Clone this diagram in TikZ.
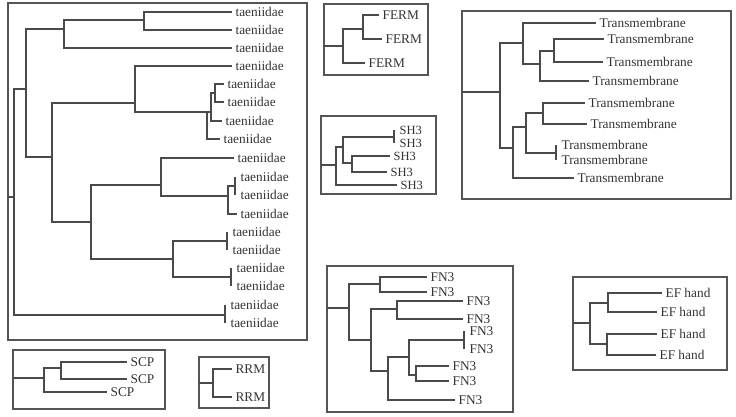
\documentclass[tikz,border=0pt]{standalone}
\usepackage{fontspec}
\setmainfont{Liberation Serif}
\definecolor{brc}{HTML}{4A4A4A}
\definecolor{boxc}{HTML}{555555}
\definecolor{txc}{HTML}{333333}
\tikzset{
  br/.style={draw=brc, line width=0.9pt},
  panel/.style={draw=boxc, line width=1.1pt},
  lab/.style={anchor=west, inner xsep=2.5pt, inner ysep=0pt, text=txc, font=\fontsize{10}{12}\selectfont},
  barlab/.style={lab, inner xsep=4pt},
  smalllab/.style={font=\fontsize{9.4}{11}\selectfont},
}
\begin{document}
\begin{tikzpicture}[x=0.75pt, y=-0.75pt]
\useasboundingbox (0,0) rectangle (736,417);

% ---------------- panels ----------------
\draw[panel] (8,3) rectangle (307,340);
\draw[panel] (324,4) rectangle (428,75);
\draw[panel] (321,116) rectangle (436,194);
\draw[panel] (462,11) rectangle (731,199);
\draw[panel] (327,266) rectangle (513,412);
\draw[panel] (573,277) rectangle (727,370);
\draw[panel] (13,350) rectangle (165,409);
\draw[panel] (199,357) rectangle (269,408);

% ---------------- taeniidae tree ----------------
\coordinate (bs) at (8,197);
\coordinate (r0) at (14,197);
\coordinate (n1) at (26,89);
\coordinate (n2) at (64,29);
\coordinate (n3) at (144,20);
\coordinate (n4) at (52,157);
\coordinate (n5) at (135,103);
\coordinate (n6) at (207,112);
\coordinate (n7) at (211,112);
\coordinate (n7b) at (215,93);
\coordinate (n8) at (91,222);
\coordinate (n9) at (161,185);
\coordinate (n10) at (228,196);
\coordinate (b1) at (235,186);
\coordinate (n11) at (173,259);
\coordinate (b2) at (227,241);
\coordinate (b3) at (231,277);
\coordinate (b4) at (225,315);

\node[lab] (t1) at (232,12) {taeniidae};
\node[lab] (t2) at (232,30) {taeniidae};
\node[lab] (t3) at (232,48) {taeniidae};
\node[lab] (t4) at (232,66) {taeniidae};
\node[lab] (t5) at (224,84) {taeniidae};
\node[lab] (t6) at (224,102) {taeniidae};
\node[lab] (t7) at (222,121) {taeniidae};
\node[lab] (t8) at (220,139) {taeniidae};
\node[lab] (t9) at (234,158) {taeniidae};
\node[barlab] (t10) at (235,177) {taeniidae};
\node[barlab] (t11) at (235,195) {taeniidae};
\node[lab] (t12) at (237,214) {taeniidae};
\node[barlab] (t13) at (227,232) {taeniidae};
\node[barlab] (t14) at (227,250) {taeniidae};
\node[barlab] (t15) at (231,268) {taeniidae};
\node[barlab] (t16) at (231,286) {taeniidae};
\node[barlab] (t17) at (225,305) {taeniidae};
\node[barlab] (t18) at (225,323) {taeniidae};

\draw[br] (bs) -- (r0);
\draw[br] (r0) |- (n1);
\draw[br] (r0) |- (b4);
\draw[br] (n1) |- (n2);
\draw[br] (n1) |- (n4);
\draw[br] (n2) |- (n3);
\draw[br] (n2) |- (t3.west);
\draw[br] (n3) |- (t1.west);
\draw[br] (n3) |- (t2.west);
\draw[br] (n4) |- (n5);
\draw[br] (n4) |- (n8);
\draw[br] (n5) |- (t4.west);
\draw[br] (n5) |- (n6);
\draw[br] (n6) |- (n7);
\draw[br] (n6) |- (t8.west);
\draw[br] (n7) |- (n7b);
\draw[br] (n7) |- (t7.west);
\draw[br] (n7b) |- (t5.west);
\draw[br] (n7b) |- (t6.west);
\draw[br] (n8) |- (n9);
\draw[br] (n8) |- (n11);
\draw[br] (n9) |- (t9.west);
\draw[br] (n9) |- (n10);
\draw[br] (n10) |- (b1);
\draw[br] (n10) |- (t12.west);
\draw[br] (b1) |- (t10.west);
\draw[br] (b1) |- (t11.west);
\draw[br] (n11) |- (b2);
\draw[br] (n11) |- (b3);
\draw[br] (b2) |- (t13.west);
\draw[br] (b2) |- (t14.west);
\draw[br] (b3) |- (t15.west);
\draw[br] (b3) |- (t16.west);
\draw[br] (b4) |- (t17.west);
\draw[br] (b4) |- (t18.west);

% ---------------- FERM ----------------
\coordinate (fs) at (324,46);
\coordinate (f0) at (343,46);
\coordinate (f1) at (363,29);
\node[lab] (F1) at (379,15) {FERM};
\node[lab] (F2) at (382,39) {FERM};
\node[lab] (F3) at (365,63) {FERM};
\draw[br] (fs) -- (f0);
\draw[br] (f0) |- (f1);
\draw[br] (f0) |- (F3.west);
\draw[br] (f1) |- (F1.west);
\draw[br] (f1) |- (F2.west);

% ---------------- SH3 ----------------
\coordinate (ss) at (321,165);
\coordinate (s0) at (336,165);
\coordinate (s1) at (343,147);
\coordinate (sb) at (394,137);
\coordinate (s2) at (352,163);
\node[barlab, smalllab] (S1) at (394,130) {SH3};
\node[barlab, smalllab] (S2) at (394,143) {SH3};
\node[lab, smalllab] (S3) at (390,156) {SH3};
\node[lab, smalllab] (S4) at (387,172) {SH3};
\node[lab, smalllab] (S5) at (397,185) {SH3};
\draw[br] (ss) -- (s0);
\draw[br] (s0) |- (s1);
\draw[br] (s0) |- (S5.west);
\draw[br] (s1) |- (sb);
\draw[br] (s1) |- (s2);
\draw[br] (sb) |- (S1.west);
\draw[br] (sb) |- (S2.west);
\draw[br] (s2) |- (S3.west);
\draw[br] (s2) |- (S4.west);

% ---------------- Transmembrane ----------------
\coordinate (ms) at (462,92);
\coordinate (m0) at (500,92);
\coordinate (m1) at (523,43);
\coordinate (m2) at (540,64);
\coordinate (m3) at (554,51);
\coordinate (m5) at (513,148);
\coordinate (m6) at (526,127);
\coordinate (m7) at (543,113);
\coordinate (mb) at (556,153);
\node[lab] (T1) at (596,23) {Transmembrane};
\node[lab] (T2) at (604,39) {Transmembrane};
\node[lab] (T3) at (603,62) {Transmembrane};
\node[lab] (T4) at (589,81) {Transmembrane};
\node[lab] (T5) at (585,103) {Transmembrane};
\node[lab] (T6) at (587,124) {Transmembrane};
\node[barlab] (T7) at (556,145) {Transmembrane};
\node[barlab] (T8) at (556,160) {Transmembrane};
\node[lab] (T9) at (574,178) {Transmembrane};
\draw[br] (ms) -- (m0);
\draw[br] (m0) |- (m1);
\draw[br] (m0) |- (m5);
\draw[br] (m1) |- (T1.west);
\draw[br] (m1) |- (m2);
\draw[br] (m2) |- (m3);
\draw[br] (m2) |- (T4.west);
\draw[br] (m3) |- (T2.west);
\draw[br] (m3) |- (T3.west);
\draw[br] (m5) |- (m6);
\draw[br] (m5) |- (T9.west);
\draw[br] (m6) |- (m7);
\draw[br] (m6) |- (mb);
\draw[br] (m7) |- (T5.west);
\draw[br] (m7) |- (T6.west);
\draw[br] (mb) |- (T7.west);
\draw[br] (mb) |- (T8.west);

% ---------------- FN3 ----------------
\coordinate (gs) at (327,308);
\coordinate (g0) at (349,308);
\coordinate (g1) at (380,284);
\coordinate (g2) at (371,340);
\coordinate (g3) at (397,309);
\coordinate (g4) at (388,371);
\coordinate (g5) at (409,357);
\coordinate (gb) at (464,340);
\coordinate (g6) at (416,375);
\node[lab] (N1) at (427,277) {FN3};
\node[lab] (N2) at (427,292) {FN3};
\node[lab] (N3) at (463,301) {FN3};
\node[lab] (N4) at (463,319) {FN3};
\node[barlab] (N5) at (464,331) {FN3};
\node[barlab] (N6) at (464,349) {FN3};
\node[lab] (N7) at (449,366) {FN3};
\node[lab] (N8) at (449,381) {FN3};
\node[lab] (N9) at (455,400) {FN3};
\draw[br] (gs) -- (g0);
\draw[br] (g0) |- (g1);
\draw[br] (g0) |- (g2);
\draw[br] (g1) |- (N1.west);
\draw[br] (g1) |- (N2.west);
\draw[br] (g2) |- (g3);
\draw[br] (g2) |- (g4);
\draw[br] (g3) |- (N3.west);
\draw[br] (g3) |- (N4.west);
\draw[br] (g4) |- (g5);
\draw[br] (g4) |- (N9.west);
\draw[br] (g5) |- (gb);
\draw[br] (g5) |- (g6);
\draw[br] (gb) |- (N5.west);
\draw[br] (gb) |- (N6.west);
\draw[br] (g6) |- (N7.west);
\draw[br] (g6) |- (N8.west);

% ---------------- EF hand ----------------
\coordinate (es) at (573,323);
\coordinate (e0) at (590,323);
\coordinate (e1) at (608,303);
\coordinate (e2) at (607,344);
\node[lab] (E1) at (662,293) {EF hand};
\node[lab] (E2) at (657,312) {EF hand};
\node[lab] (E3) at (657,334) {EF hand};
\node[lab] (E4) at (656,355) {EF hand};
\draw[br] (es) -- (e0);
\draw[br] (e0) |- (e1);
\draw[br] (e0) |- (e2);
\draw[br] (e1) |- (E1.west);
\draw[br] (e1) |- (E2.west);
\draw[br] (e2) |- (E3.west);
\draw[br] (e2) |- (E4.west);

% ---------------- SCP ----------------
\coordinate (cs) at (13,378);
\coordinate (c0) at (44,378);
\coordinate (c1) at (61,368);
\node[lab] (C1) at (127,362) {SCP};
\node[lab] (C2) at (127,379) {SCP};
\node[lab] (C3) at (107,392) {SCP};
\draw[br] (cs) -- (c0);
\draw[br] (c0) |- (c1);
\draw[br] (c0) |- (C3.west);
\draw[br] (c1) |- (C1.west);
\draw[br] (c1) |- (C2.west);

% ---------------- RRM ----------------
\coordinate (rs) at (199,383);
\coordinate (rr) at (213,383);
\node[lab] (R1) at (232,369) {RRM};
\node[lab] (R2) at (232,397) {RRM};
\draw[br] (rs) -- (rr);
\draw[br] (rr) |- (R1.west);
\draw[br] (rr) |- (R2.west);
\end{tikzpicture}
\end{document}
